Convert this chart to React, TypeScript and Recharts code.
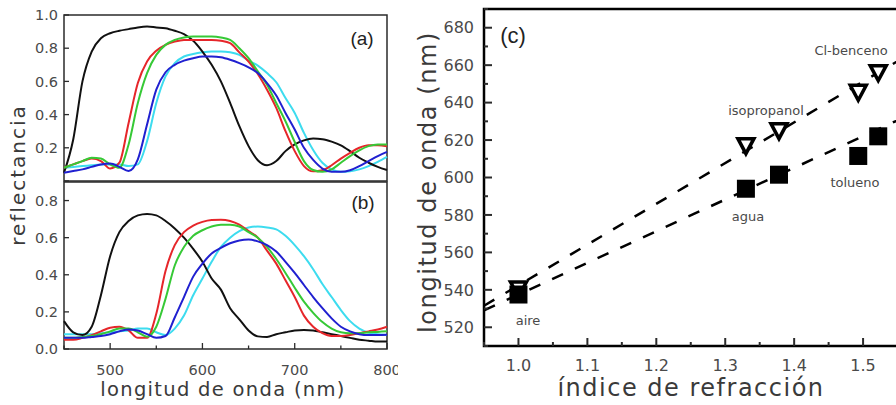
import React from 'react'
import {
  LineChart,
  Line,
  ComposedChart,
  Scatter,
  XAxis,
  YAxis,
  ReferenceArea,
} from 'recharts'

const FONT = '"DejaVu Sans", Verdana, sans-serif'
const PANEL_FONT = '"Liberation Sans", Arial, sans-serif'
const TEXT = '#4a4a4a'
const FRAME = '#2b2b2b'

// longitudes de onda comunes a (a) y (b)
const WAVELENGTHS = [
  450, 460, 470, 480, 490, 500, 510, 520, 530, 540, 550, 560, 570, 580, 590, 600, 610, 620,
  630, 640, 650, 660, 670, 680, 690, 700, 710, 720, 730, 740, 750, 760, 770, 780, 790, 800,
]

// (a) reflectancia
const A_BLACK = [
  0.05, 0.25, 0.6, 0.78, 0.86, 0.89, 0.905, 0.915, 0.925, 0.93, 0.925, 0.92, 0.905, 0.885, 0.845, 0.78, 0.7, 0.6,
  0.47, 0.33, 0.21, 0.125, 0.095, 0.12, 0.18, 0.22, 0.245, 0.256, 0.252, 0.237, 0.215, 0.18, 0.14, 0.11, 0.085, 0.066,
]
const A_RED = [
  0.08, 0.1, 0.12, 0.135, 0.12, 0.075, 0.11, 0.35, 0.59, 0.72, 0.785, 0.82, 0.84, 0.85, 0.85, 0.85, 0.85, 0.845,
  0.83, 0.775, 0.72, 0.645, 0.55, 0.44, 0.3, 0.18, 0.09, 0.058, 0.065, 0.095, 0.135, 0.17, 0.2, 0.215, 0.215, 0.21,
]
const A_GREEN = [
  0.08, 0.1, 0.12, 0.14, 0.135, 0.1, 0.08, 0.22, 0.47, 0.65, 0.76, 0.82, 0.85, 0.865, 0.87, 0.87, 0.87, 0.865,
  0.85, 0.8, 0.74, 0.66, 0.58, 0.47, 0.36, 0.235, 0.12, 0.066, 0.055, 0.07, 0.11, 0.15, 0.185, 0.21, 0.22, 0.22,
]
const A_BLUE = [
  0.05, 0.06, 0.07, 0.085, 0.1, 0.105, 0.085, 0.06, 0.13, 0.34, 0.55, 0.655, 0.7, 0.725, 0.74, 0.75, 0.75, 0.745,
  0.73, 0.71, 0.685, 0.65, 0.59, 0.515, 0.41, 0.31, 0.2, 0.127, 0.075, 0.056, 0.055, 0.065, 0.09, 0.12, 0.15, 0.175,
]
const A_CYAN = [
  0.08, 0.085, 0.09, 0.095, 0.1, 0.1, 0.1, 0.09, 0.1, 0.24, 0.47, 0.63, 0.71, 0.75, 0.765, 0.775, 0.78, 0.78,
  0.775, 0.76, 0.725, 0.695, 0.65, 0.595, 0.5, 0.41, 0.29, 0.187, 0.11, 0.07, 0.055, 0.058, 0.07, 0.09, 0.115, 0.145,
]

// (b) reflectancia
const B_BLACK = [
  0.15, 0.09, 0.075, 0.12, 0.29, 0.5, 0.63, 0.69, 0.72, 0.728, 0.72, 0.69, 0.65, 0.6, 0.54, 0.47, 0.38, 0.32,
  0.22, 0.16, 0.1, 0.068, 0.065, 0.08, 0.09, 0.1, 0.103, 0.1, 0.09, 0.08, 0.07, 0.06, 0.05, 0.045, 0.04, 0.04,
]
const B_RED = [
  0.05, 0.05, 0.06, 0.075, 0.095, 0.115, 0.12, 0.1, 0.06, 0.06, 0.19, 0.42, 0.56, 0.63, 0.665, 0.685, 0.695, 0.697,
  0.69, 0.67, 0.635, 0.6, 0.53, 0.46, 0.37, 0.28, 0.18, 0.12, 0.085, 0.07, 0.07, 0.075, 0.085, 0.095, 0.105, 0.12,
]
const B_GREEN = [
  0.06, 0.06, 0.065, 0.07, 0.08, 0.095, 0.11, 0.11, 0.09, 0.066, 0.12, 0.27, 0.45, 0.55, 0.61, 0.64, 0.66, 0.67,
  0.67, 0.66, 0.63, 0.6, 0.55, 0.485, 0.41, 0.33, 0.255, 0.195, 0.145, 0.11, 0.09, 0.085, 0.085, 0.09, 0.092, 0.095,
]
const B_BLUE = [
  0.06, 0.06, 0.06, 0.065, 0.07, 0.08, 0.095, 0.105, 0.1, 0.08, 0.06, 0.07, 0.17, 0.28, 0.39, 0.46, 0.515, 0.545,
  0.57, 0.585, 0.59, 0.58, 0.56, 0.525, 0.47, 0.41, 0.345, 0.28, 0.22, 0.165, 0.12, 0.095, 0.08, 0.075, 0.075, 0.077,
]
const B_CYAN = [
  0.08, 0.08, 0.08, 0.08, 0.085, 0.09, 0.095, 0.1, 0.11, 0.11, 0.09, 0.075, 0.11, 0.18, 0.29, 0.38, 0.47, 0.55,
  0.6, 0.635, 0.655, 0.66, 0.655, 0.645, 0.61, 0.56, 0.5, 0.43, 0.35, 0.28, 0.21, 0.15, 0.11, 0.088, 0.08, 0.076,
]

// (c) posición del pico frente al índice de refracción
const SOLVENTS = ['aire', 'agua', 'isopropanol', 'tolueno', 'Cl-benceno']
const REFRACTIVE_INDEX = [1.0, 1.33, 1.378, 1.493, 1.522]
const PEAK_TRIANGLES = [540.5, 617, 625, 645.5, 656]
const PEAK_SQUARES = [537.5, 594, 601.5, 611.5, 622]
const FIT_INDEX = [0.95, 1.6]
const FIT_TRIANGLES = [531.5, 673]
const FIT_SQUARES = [529, 639]

// ticks
const WL_TICKS = [450, 500, 550, 600, 650, 700, 750, 800]
const WL_MAJOR = [500, 600, 700, 800]
const REFL_TICKS_A = [0, 0.2, 0.4, 0.6, 0.8, 1.0]
const REFL_LABELS_A = [0.2, 0.4, 0.6, 0.8, 1.0]
const REFL_TICKS_B = [0, 0.2, 0.4, 0.6, 0.8]
const N_TICKS = [0.95, 1.0, 1.05, 1.1, 1.15, 1.2, 1.25, 1.3, 1.35, 1.4, 1.45, 1.5, 1.55]
const N_MAJOR = [1.0, 1.1, 1.2, 1.3, 1.4, 1.5]
const PEAK_TICKS = [510, 520, 530, 540, 550, 560, 570, 580, 590, 600, 610, 620, 630, 640, 650, 660, 670, 680, 690]
const PEAK_MAJOR = [520, 540, 560, 580, 600, 620, 640, 660, 680]

const SERIES = [
  { key: 'cyan', color: '#3ddcef' },
  { key: 'black', color: '#111111' },
  { key: 'red', color: '#e6262a' },
  { key: 'green', color: '#36c936' },
  { key: 'blue', color: '#2020d0' },
]

const spectraA = WAVELENGTHS.map((wl, i) => ({
  wl,
  black: A_BLACK[i],
  red: A_RED[i],
  green: A_GREEN[i],
  blue: A_BLUE[i],
  cyan: A_CYAN[i],
}))

const spectraB = WAVELENGTHS.map((wl, i) => ({
  wl,
  black: B_BLACK[i],
  red: B_RED[i],
  green: B_GREEN[i],
  blue: B_BLUE[i],
  cyan: B_CYAN[i],
}))

const triangles = REFRACTIVE_INDEX.map((n, i) => ({ n, peak: PEAK_TRIANGLES[i] }))
const squares = REFRACTIVE_INDEX.map((n, i) => ({ n, peak: PEAK_SQUARES[i] }))
const fitTriangles = FIT_INDEX.map((n, i) => ({ n, peak: FIT_TRIANGLES[i] }))
const fitSquares = FIT_INDEX.map((n, i) => ({ n, peak: FIT_SQUARES[i] }))

type TickOpts = {
  majors: number[]
  labels?: number[]
  long: number
  short: number
  gap: number
  size: number
  digits: number
  width: number
}

// ticks hacia dentro, hechos a mano
const bottomTick = (o: TickOpts) => (p: any) => {
  const v = p.payload.value
  const major = o.majors.includes(v)
  return (
    <g>
      <line x1={p.x} x2={p.x} y1={p.y} y2={p.y - (major ? o.long : o.short)} stroke={FRAME} strokeWidth={o.width} />
      {o.labels && o.labels.includes(v) && (
        <text x={p.x} y={p.y + o.gap} textAnchor="middle" fill={TEXT} fontSize={o.size} fontFamily={FONT}>
          {v.toFixed(o.digits)}
        </text>
      )}
    </g>
  )
}

const topTick = (o: TickOpts) => (p: any) => {
  const major = o.majors.includes(p.payload.value)
  return <line x1={p.x} x2={p.x} y1={p.y} y2={p.y + (major ? o.long : o.short)} stroke={FRAME} strokeWidth={o.width} />
}

const leftTick = (o: TickOpts) => (p: any) => {
  const v = p.payload.value
  const major = o.majors.includes(v)
  return (
    <g>
      <line x1={p.x} x2={p.x + (major ? o.long : o.short)} y1={p.y} y2={p.y} stroke={FRAME} strokeWidth={o.width} />
      {o.labels && o.labels.includes(v) && (
        <text x={p.x - o.gap} y={p.y} dy="0.36em" textAnchor="end" fill={TEXT} fontSize={o.size} fontFamily={FONT}>
          {v.toFixed(o.digits)}
        </text>
      )}
    </g>
  )
}

const SquareMark = (p: any) => <rect x={p.cx - 9} y={p.cy - 9} width={18} height={18} fill="#000" />

const TriangleMark = (p: any) => (
  <path
    d={`M${p.cx - 8},${p.cy - 7} L${p.cx + 8},${p.cy - 7} L${p.cx},${p.cy + 8} Z`}
    fill="#fff"
    stroke="#000"
    strokeWidth={3.5}
  />
)

function Text({ children, x, y, size, spacing = 0, rotate = false, font = FONT, color = TEXT }: any) {
  return (
    <div
      style={{
        position: 'absolute',
        left: x,
        top: y,
        transform: `translate(-50%, -50%)${rotate ? ' rotate(-90deg)' : ''}`,
        fontSize: size,
        letterSpacing: spacing,
        whiteSpace: 'nowrap',
        lineHeight: 1,
        fontFamily: font,
        color,
      }}
    >
      {children}
    </div>
  )
}

function SpectraLines() {
  return SERIES.map((s) => (
    <Line
      key={s.key}
      type="monotone"
      dataKey={s.key}
      stroke={s.color}
      strokeWidth={2}
      dot={false}
      isAnimationActive={false}
    />
  ))
}

export default function App() {
  const wlBottomA = bottomTick({ majors: WL_MAJOR, long: 6, short: 3.5, gap: 0, size: 14.5, digits: 0, width: 1.3 })
  const wlBottomB = bottomTick({ majors: WL_MAJOR, labels: WL_MAJOR, long: 6, short: 3.5, gap: 26, size: 14.5, digits: 0, width: 1.3 })
  const wlTopB = topTick({ majors: WL_MAJOR, long: 5, short: 3, gap: 0, size: 14.5, digits: 0, width: 1.3 })
  const reflA = leftTick({ majors: REFL_TICKS_A, labels: REFL_LABELS_A, long: 5, short: 3, gap: 6, size: 14.5, digits: 1, width: 1.3 })
  const reflB = leftTick({ majors: REFL_TICKS_B, labels: REFL_TICKS_B, long: 5, short: 3, gap: 6, size: 14.5, digits: 1, width: 1.3 })
  const nTick = bottomTick({ majors: N_MAJOR, labels: N_MAJOR, long: 8, short: 4, gap: 25, size: 16, digits: 1, width: 2 })
  const peakTick = leftTick({ majors: PEAK_MAJOR, labels: PEAK_MAJOR, long: 8, short: 4, gap: 10, size: 16, digits: 0, width: 2 })

  return (
    <div
      style={{
        position: 'fixed',
        left: 0,
        top: 0,
        width: 896,
        height: 405,
        overflow: 'hidden',
        background: '#fff',
        fontFamily: FONT,
      }}
    >
      {/* (a) */}
      <div style={{ position: 'absolute', left: 0, top: 0 }}>
        <LineChart width={398} height={190} data={spectraA} margin={{ top: 15, right: 11, bottom: 9, left: 0 }}>
          <XAxis
            dataKey="wl"
            type="number"
            domain={[450, 800]}
            ticks={WL_TICKS}
            interval={0}
            height={0}
            axisLine={false}
            tickSize={0}
            tickMargin={0}
            tick={wlBottomA}
          />
          <YAxis
            type="number"
            domain={[0, 1]}
            ticks={REFL_TICKS_A}
            interval={0}
            width={64}
            axisLine={false}
            tickSize={0}
            tickMargin={0}
            tick={reflA}
          />
          {SpectraLines()}
          <ReferenceArea x1={450} x2={800} y1={0} y2={1} fill="none" stroke={FRAME} strokeWidth={1.5} />
        </LineChart>
      </div>

      {/* (b) */}
      <div style={{ position: 'absolute', left: 0, top: 170 }}>
        <LineChart width={398} height={235} data={spectraB} margin={{ top: 12, right: 11, bottom: 0, left: 0 }}>
          <XAxis
            dataKey="wl"
            type="number"
            domain={[450, 800]}
            ticks={WL_TICKS}
            interval={0}
            height={56}
            axisLine={false}
            tickSize={0}
            tickMargin={0}
            tick={wlBottomB}
          />
          <XAxis
            xAxisId="top"
            orientation="top"
            dataKey="wl"
            type="number"
            domain={[450, 800]}
            ticks={WL_TICKS}
            interval={0}
            height={0}
            axisLine={false}
            tickSize={0}
            tickMargin={0}
            tick={wlTopB}
          />
          <YAxis
            type="number"
            domain={[0, 0.9]}
            ticks={REFL_TICKS_B}
            interval={0}
            width={64}
            axisLine={false}
            tickSize={0}
            tickMargin={0}
            tick={reflB}
          />
          {SpectraLines()}
          <ReferenceArea x1={450} x2={800} y1={0} y2={0.9} fill="none" stroke={FRAME} strokeWidth={1.5} />
        </LineChart>
      </div>

      {/* (c) */}
      <div style={{ position: 'absolute', left: 420, top: 0 }}>
        <ComposedChart width={520} height={405} margin={{ top: 9, right: 8, bottom: 0, left: 0 }}>
          <XAxis
            dataKey="n"
            type="number"
            domain={[0.95, 1.6]}
            ticks={N_TICKS}
            interval={0}
            height={59}
            axisLine={false}
            tickSize={0}
            tickMargin={0}
            tick={nTick}
          />
          <YAxis
            dataKey="peak"
            type="number"
            domain={[510, 690]}
            ticks={PEAK_TICKS}
            interval={0}
            width={64}
            axisLine={false}
            tickSize={0}
            tickMargin={0}
            tick={peakTick}
          />
          <Line
            data={fitTriangles}
            dataKey="peak"
            type="linear"
            stroke="#000"
            strokeWidth={2.5}
            strokeDasharray="12 13"
            dot={false}
            isAnimationActive={false}
          />
          <Line
            data={fitSquares}
            dataKey="peak"
            type="linear"
            stroke="#000"
            strokeWidth={2.5}
            strokeDasharray="12 13"
            dot={false}
            isAnimationActive={false}
          />
          <Scatter data={triangles} dataKey="peak" shape={TriangleMark} isAnimationActive={false} />
          <Scatter data={squares} dataKey="peak" shape={SquareMark} isAnimationActive={false} />
          <ReferenceArea x1={0.95} x2={1.6} y1={510} y2={690} fill="none" stroke="#000" strokeWidth={2.5} />
        </ComposedChart>
      </div>

      {/* títulos y rótulos */}
      <Text x={18} y={175} size={20} spacing={2} rotate color="#3a3a3a">reflectancia</Text>
      <Text x={223} y={390} size={19.5} spacing={1.3} color="#3a3a3a">longitud de onda (nm)</Text>
      <Text x={428} y={182} size={24} spacing={1.6} rotate color="#3a3a3a">longitud de onda (nm)</Text>
      <Text x={691} y={388} size={24} spacing={1.5} color="#3a3a3a">índice de refracción</Text>

      <Text x={362} y={38} size={19} font={PANEL_FONT} color="#222">(a)</Text>
      <Text x={363} y={202} size={19} font={PANEL_FONT} color="#222">(b)</Text>
      <Text x={513} y={36} size={22} font={PANEL_FONT} color="#222">(c)</Text>

      <Text x={528} y={320} size={13}>{SOLVENTS[0]}</Text>
      <Text x={748} y={216} size={13}>{SOLVENTS[1]}</Text>
      <Text x={766} y={110} size={13}>{SOLVENTS[2]}</Text>
      <Text x={855} y={182} size={13}>{SOLVENTS[3]}</Text>
      <Text x={851} y={50} size={13}>{SOLVENTS[4]}</Text>
    </div>
  )
}
